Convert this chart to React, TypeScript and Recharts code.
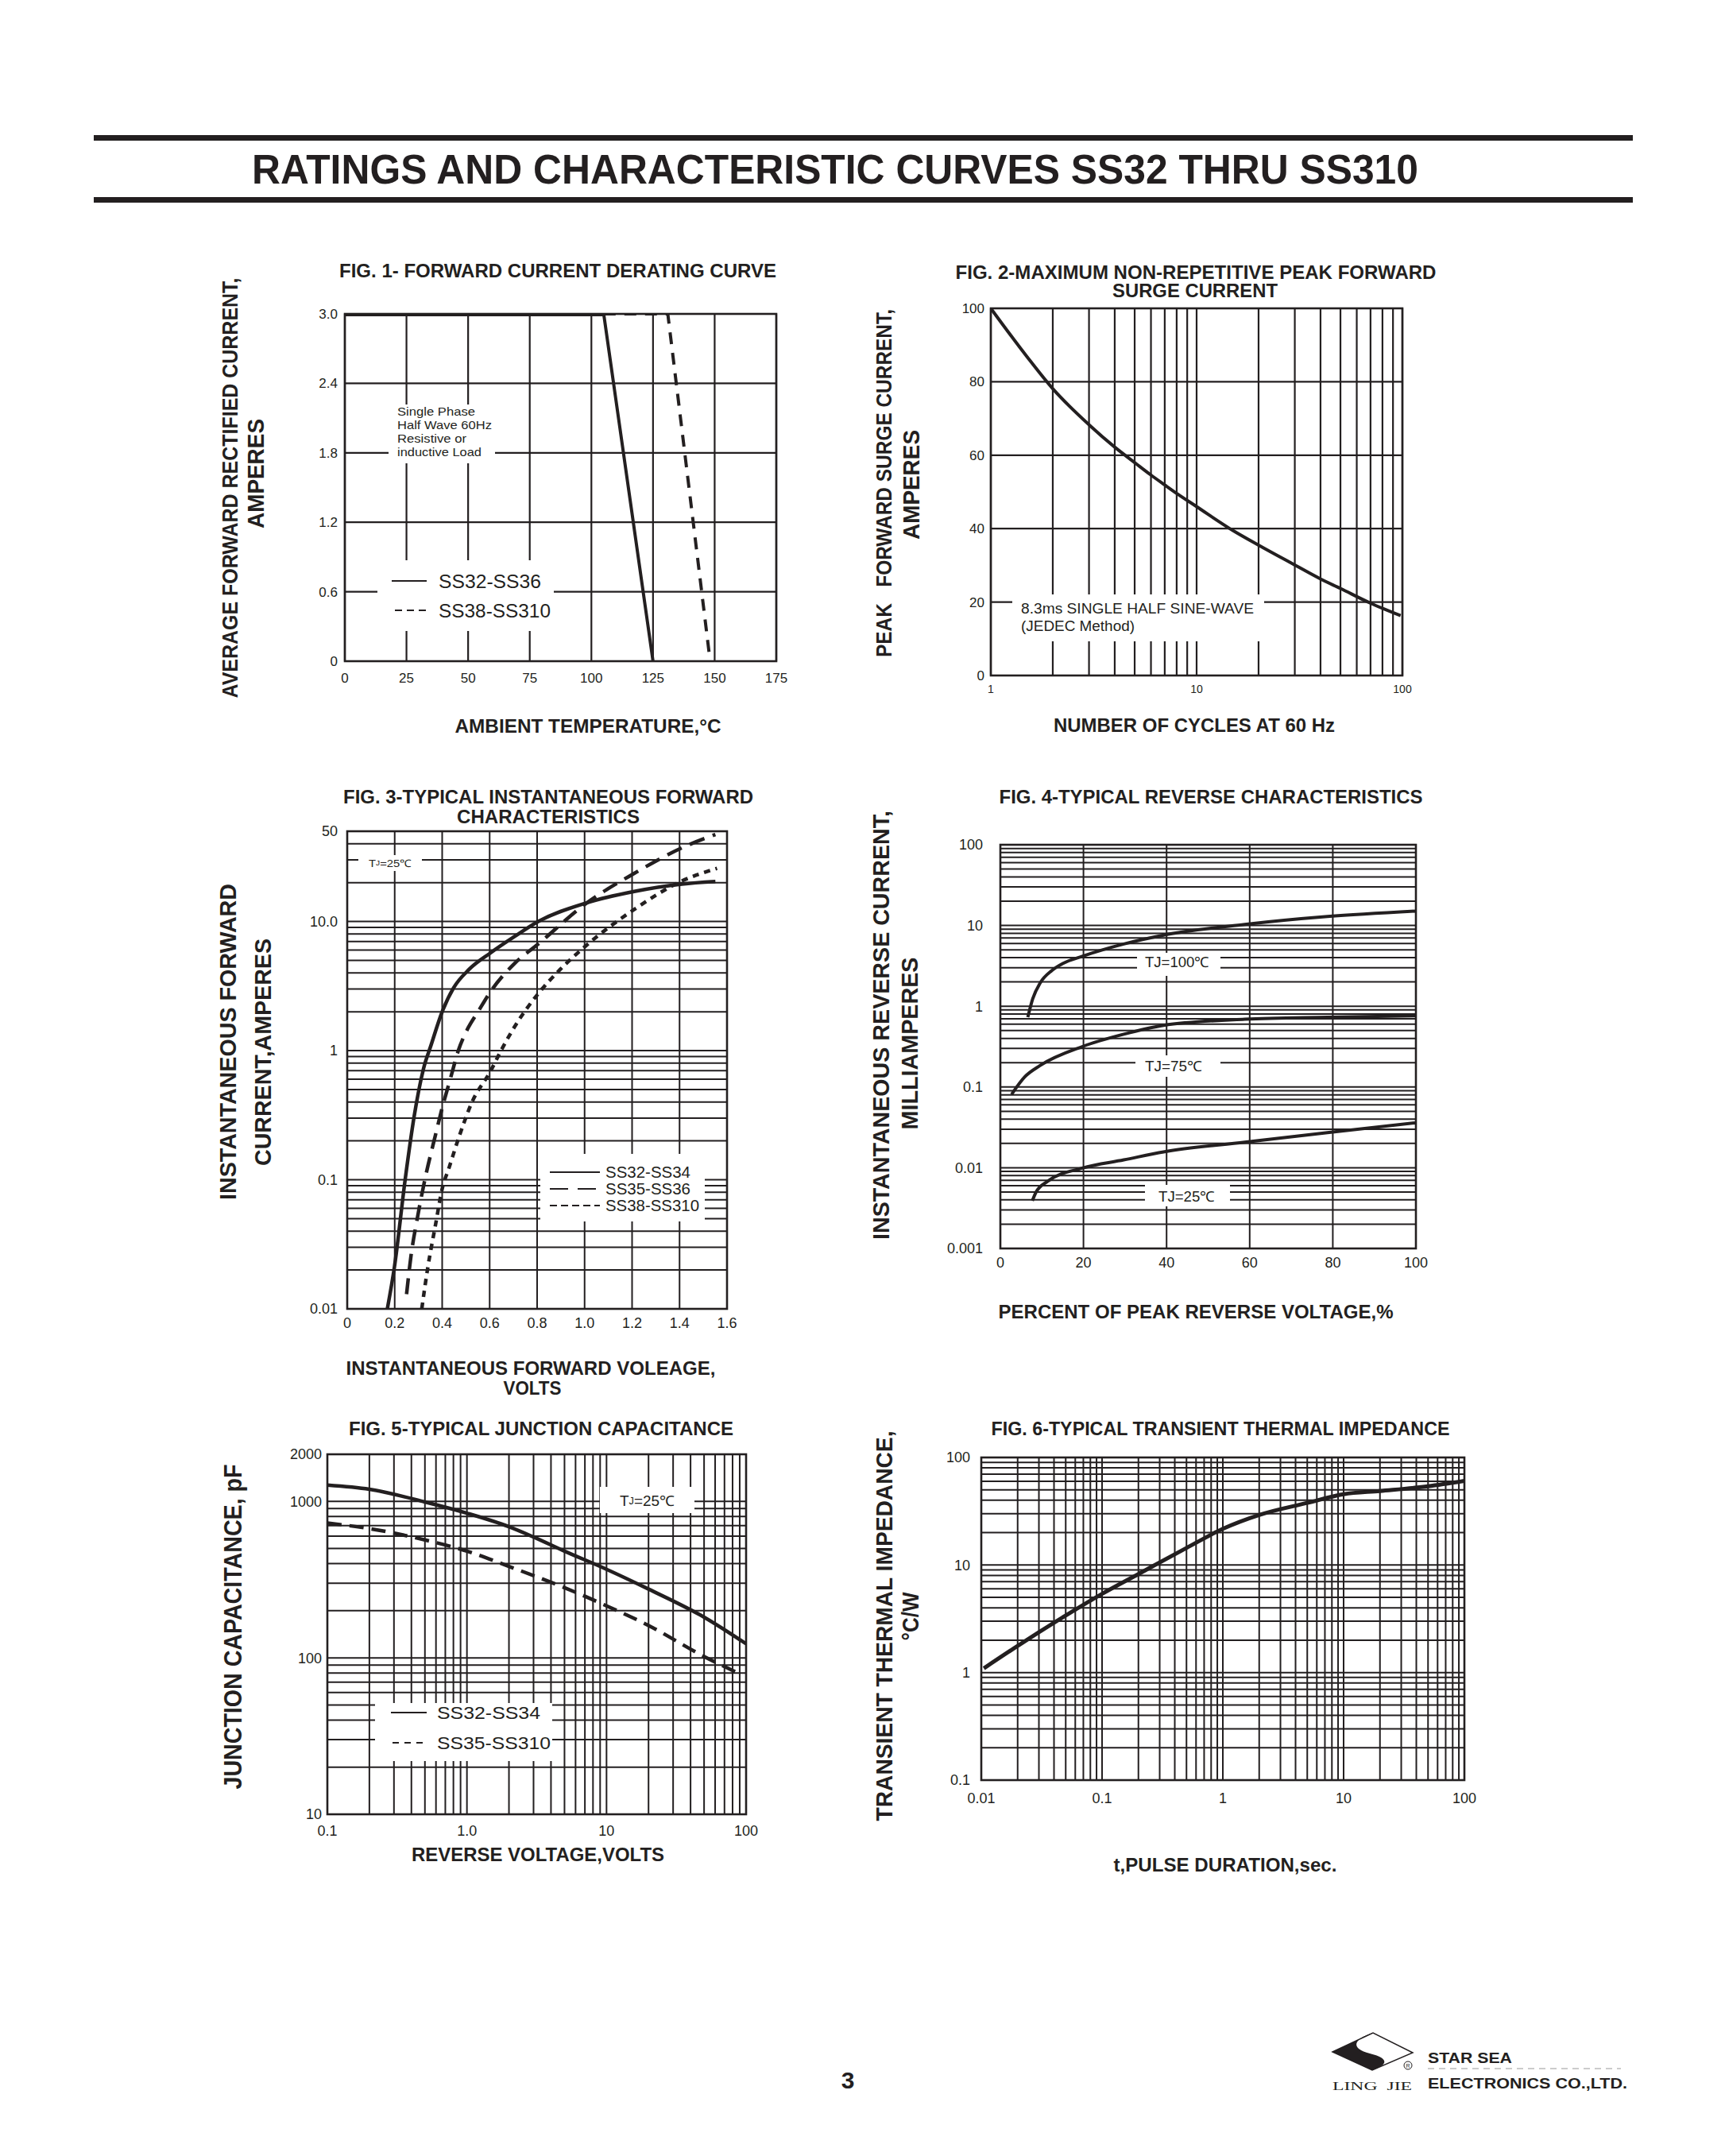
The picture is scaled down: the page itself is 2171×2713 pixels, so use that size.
import React from 'react';
import { CartesianGrid, Line, LineChart, XAxis, YAxis } from 'recharts';

const INK = '#231f20';
const FONT = '"Liberation Sans", Arial, Helvetica, sans-serif';

// ---- FIG. 1 forward current derating ----
const fig1XTicks = [0, 25, 50, 75, 100, 125, 150, 175];
const fig1YTicks = [0, 0.6, 1.2, 1.8, 2.4, 3.0];
const fig1SS32 = [
  { t: 0, a: 3.0 },
  { t: 105, a: 3.0 },
  { t: 125, a: 0 },
];
const fig1SS38 = [
  { t: 105, a: 3.0 },
  { t: 131, a: 3.0 },
  { t: 148, a: 0.03 },
];

// ---- FIG. 2 surge current ----
const fig2Cycles = [1, 1.5, 2, 3, 4, 5, 6, 7, 8, 10, 15, 20, 30, 40, 50, 70, 98];
const fig2Amps = [100, 86.8, 78.1, 68.3, 62.2, 58, 54.6, 51.9, 49.6, 46, 39.5, 35.5, 30.1, 26.3, 23.7, 19.7, 16.3];
const fig2YTicks = [0, 20, 40, 60, 80, 100];
const fig2XLabels: [number, string][] = [[1, '1'], [10, '10'], [100, '100']];

// ---- FIG. 3 forward characteristics ----
const fig3XTicks = [0, 0.2, 0.4, 0.6, 0.8, 1.0, 1.2, 1.4, 1.6];
const fig3YLabels: [number, string][] = [[0.01, '0.01'], [0.1, '0.1'], [1, '1'], [10, '10.0'], [50, '50']];
const fig3SS32V = [0.169, 0.199, 0.244, 0.282, 0.321, 0.353, 0.4, 0.449, 0.513, 0.603, 0.705, 0.805, 1.006, 1.209, 1.41, 1.551];
const fig3SS32I = [0.01, 0.0212, 0.1, 0.31, 0.72, 1.1, 2.0, 3.08, 4.25, 5.7, 7.65, 10, 13.9, 17.1, 19.5, 20.4];
const fig3SS35V = [0.25, 0.269, 0.295, 0.327, 0.372, 0.4, 0.436, 0.468, 0.506, 0.551, 0.603, 0.705, 0.805, 1.006, 1.209, 1.41, 1.551];
const fig3SS35I = [0.013, 0.026, 0.05, 0.1, 0.223, 0.36, 0.62, 1.0, 1.46, 2.0, 2.85, 4.73, 6.7, 13.8, 23.6, 37.2, 47.2];
const fig3SS38V = [0.314, 0.34, 0.372, 0.4, 0.429, 0.474, 0.526, 0.603, 0.654, 0.705, 0.805, 0.897, 1.006, 1.209, 1.41, 1.558];
const fig3SS38I = [0.01, 0.0212, 0.0448, 0.085, 0.124, 0.223, 0.4, 0.69, 1.05, 1.53, 2.77, 4.25, 6.5, 12.4, 20.6, 25.8];

// ---- FIG. 4 reverse characteristics ----
const fig4XTicks = [0, 20, 40, 60, 80, 100];
const fig4YLabels: [number, string][] = [[0.001, '0.001'], [0.01, '0.01'], [0.1, '0.1'], [1, '1'], [10, '10'], [100, '100']];
const fig4T100P = [6.6, 7.8, 9.6, 12.4, 15.1, 19.7, 29.7, 39.3, 58.8, 78.7, 100];
const fig4T100I = [0.73, 1.24, 1.95, 2.77, 3.4, 4.15, 5.9, 7.6, 10.3, 12.9, 15.1];
const fig4T75P = [2.7, 5.9, 9.6, 19.7, 29.7, 39.3, 58.8, 78.7, 100];
const fig4T75I = [0.081, 0.134, 0.185, 0.316, 0.45, 0.58, 0.69, 0.73, 0.76];
const fig4T25P = [7.7, 8.6, 11.4, 19.7, 29.7, 39.3, 58.8, 78.7, 100];
const fig4T25I = [0.0039, 0.005, 0.0068, 0.0099, 0.0125, 0.0157, 0.0207, 0.0272, 0.036];

// ---- FIG. 5 junction capacitance ----
const fig5XLabels: [number, string][] = [[0.1, '0.1'], [1, '1.0'], [10, '10'], [100, '100']];
const fig5YLabels: [number, string][] = [[10, '10'], [100, '100'], [1000, '1000'], [2000, '2000']];
const fig5SS32V = [0.1, 0.2, 0.5, 1, 2, 3, 5, 10, 20, 50, 100];
const fig5SS32C = [1271, 1195, 992, 841, 689, 592, 481, 368, 275, 182, 123];
const fig5SS35V = [0.1, 0.2, 0.5, 1, 2, 5, 10, 20, 50, 90];
const fig5SS35C = [727, 670, 567, 481, 384, 281, 215, 161, 102, 79];

// ---- FIG. 6 transient thermal impedance ----
const fig6XLabels: [number, string][] = [[0.01, '0.01'], [0.1, '0.1'], [1, '1'], [10, '10'], [100, '100']];
const fig6YLabels: [number, string][] = [[0.1, '0.1'], [1, '1'], [10, '10'], [100, '100']];
const fig6T = [0.0105, 0.02, 0.03, 0.05, 0.1, 0.2, 0.5, 1, 2, 5, 10, 20, 50, 100];
const fig6Z = [1.095, 1.77, 2.37, 3.39, 5.39, 8.24, 14.4, 21.7, 29.2, 37.8, 45.5, 48.8, 54, 60.6];

// gridline positions for log axes (1..9 per decade)
const logGrid = (lo: number, hi: number): number[] => {
  const out: number[] = [];
  for (let e = Math.floor(Math.log10(lo)); e <= Math.ceil(Math.log10(hi)); e++) {
    for (let m = 1; m <= 9; m++) {
      const v = Number((m * Math.pow(10, e)).toPrecision(3));
      if (v >= lo * 0.999 && v <= hi * 1.001) out.push(v);
    }
  }
  return out;
};
const lab = (pairs: [number, string][]) => (v: number) => {
  const p = pairs.find(([k]) => Math.abs(k - v) <= k * 1e-6);
  return p ? p[1] : '';
};
const zip = (xs: number[], ys: number[]) => xs.map((x, i) => ({ x, y: ys[i] }));

type Rect = { x0: number; y0: number; x1: number; y1: number };
const R1: Rect = { x0: 434, y0: 395, x1: 977, y1: 832 };
const R2: Rect = { x0: 1247, y0: 388, x1: 1765, y1: 850 };
const R3: Rect = { x0: 437, y0: 1046, x1: 915, y1: 1647 };
const R4: Rect = { x0: 1259, y0: 1063, x1: 1782, y1: 1571 };
const R5: Rect = { x0: 412, y0: 1830, x1: 939, y1: 2283 };
const R6: Rect = { x0: 1235, y0: 1834, x1: 1843, y1: 2240 };

const ML = 90, MR = 30, MT = 24, MB = 50;
const dims = (r: Rect) => ({
  width: r.x1 - r.x0 + ML + MR,
  height: r.y1 - r.y0 + MT + MB,
  margin: { top: MT, right: MR, bottom: 0, left: 0 },
});
const Place = ({ r, children }: { r: Rect; children: React.ReactNode }) => (
  <div style={{ position: 'absolute', left: r.x0 - ML, top: r.y0 - MT }}>{children}</div>
);
const tick = (size: number) => ({ fill: INK, fontSize: size, fontFamily: FONT });
const axisBase = { tickLine: false, axisLine: false, tickSize: 0, interval: 0 as const, allowDataOverflow: true };
const curve = { dot: false, activeDot: false, isAnimationActive: false, stroke: INK, dataKey: 'y' };

function Txt(p: {
  x: number; y: number; len?: number; size?: number; bold?: boolean;
  anchor?: 'start' | 'middle' | 'end'; rot?: boolean; serif?: boolean; children: React.ReactNode;
}) {
  const { x, y, len, size = 24, bold = true, anchor = 'middle', rot, serif } = p;
  return (
    <text
      x={x} y={y} fontSize={size} fontWeight={bold ? 700 : 400}
      fontFamily={serif ? '"Liberation Serif", "DejaVu Serif", serif' : FONT}
      fill={INK} textAnchor={anchor} dominantBaseline="central"
      textLength={len} lengthAdjust={len ? 'spacingAndGlyphs' : undefined}
      transform={rot ? `rotate(-90 ${x} ${y})` : undefined}
    >
      {p.children}
    </text>
  );
}
const WBox = ({ x0, y0, x1, y1 }: Rect) => <rect x={x0} y={y0} width={x1 - x0} height={y1 - y0} fill="#fff" />;
const FrameRect = ({ r }: { r: Rect }) => (
  <rect x={r.x0} y={r.y0} width={r.x1 - r.x0} height={r.y1 - r.y0} fill="none" stroke={INK} strokeWidth={2.6} />
);

export default function App() {
  return (
    <div style={{ position: 'absolute', left: 0, top: 0, width: 2171, height: 2713, background: '#fff', overflow: 'hidden' }}>
      {/* FIG 1 */}
      <Place r={R1}>
        <LineChart {...dims(R1)}>
          <CartesianGrid stroke={INK} strokeWidth={2.2} />
          <XAxis {...axisBase} type="number" dataKey="x" domain={[0, 175]} ticks={fig1XTicks} height={MB} tickMargin={15} tick={tick(17)} />
          <YAxis {...axisBase} type="number" domain={[0, 3]} ticks={fig1YTicks} width={ML} tickMargin={9} tick={tick(17)}
            tickFormatter={(v: number) => (v === 0 ? '0' : v.toFixed(1))} />
          <Line {...curve} data={fig1SS38.map((d) => ({ x: d.t, y: d.a }))} type="linear" strokeWidth={4} strokeDasharray="15 11" />
          <Line {...curve} data={fig1SS32.map((d) => ({ x: d.t, y: d.a }))} type="linear" strokeWidth={4} />
        </LineChart>
      </Place>

      {/* FIG 2 */}
      <Place r={R2}>
        <LineChart {...dims(R2)}>
          <CartesianGrid stroke={INK} strokeWidth={2.2} />
          <XAxis {...axisBase} type="number" dataKey="x" scale="log" domain={[1, 100]} ticks={logGrid(1, 100)} height={MB} tickMargin={12}
            tick={tick(14)} tickFormatter={lab(fig2XLabels)} />
          <YAxis {...axisBase} type="number" domain={[0, 100]} ticks={fig2YTicks} width={ML} tickMargin={8} tick={tick(17)} />
          <Line {...curve} data={zip(fig2Cycles, fig2Amps)} type="monotone" strokeWidth={4} />
        </LineChart>
      </Place>

      {/* FIG 3 */}
      <Place r={R3}>
        <LineChart {...dims(R3)}>
          <CartesianGrid stroke={INK} strokeWidth={2} />
          <XAxis {...axisBase} type="number" dataKey="x" domain={[0, 1.6]} ticks={fig3XTicks} height={MB} tickMargin={11} tick={tick(18)}
            tickFormatter={(v: number) => (v === 0 ? '0' : v.toFixed(1))} />
          <YAxis {...axisBase} type="number" scale="log" domain={[0.01, 50]} ticks={logGrid(0.01, 50)} width={ML} tickMargin={12}
            tick={tick(18)} tickFormatter={lab(fig3YLabels)} />
          <Line {...curve} data={zip(fig3SS38V, fig3SS38I)} type="monotone" strokeWidth={4.5} strokeDasharray="8 7" />
          <Line {...curve} data={zip(fig3SS35V, fig3SS35I)} type="monotone" strokeWidth={4.5} strokeDasharray="20 11" />
          <Line {...curve} data={zip(fig3SS32V, fig3SS32I)} type="monotone" strokeWidth={4.5} />
        </LineChart>
      </Place>

      {/* FIG 4 */}
      <Place r={R4}>
        <LineChart {...dims(R4)}>
          <CartesianGrid stroke={INK} strokeWidth={2} />
          <XAxis {...axisBase} type="number" dataKey="x" domain={[0, 100]} ticks={fig4XTicks} height={MB} tickMargin={11} tick={tick(18)} />
          <YAxis {...axisBase} type="number" scale="log" domain={[0.001, 100]} ticks={logGrid(0.001, 100)} width={ML} tickMargin={22}
            tick={tick(18)} tickFormatter={lab(fig4YLabels)} />
          <Line {...curve} data={zip(fig4T100P, fig4T100I)} type="monotone" strokeWidth={4} />
          <Line {...curve} data={zip(fig4T75P, fig4T75I)} type="monotone" strokeWidth={4} />
          <Line {...curve} data={zip(fig4T25P, fig4T25I)} type="monotone" strokeWidth={4} />
        </LineChart>
      </Place>

      {/* FIG 5 */}
      <Place r={R5}>
        <LineChart {...dims(R5)}>
          <CartesianGrid stroke={INK} strokeWidth={2} />
          <XAxis {...axisBase} type="number" dataKey="x" scale="log" domain={[0.1, 100]} ticks={logGrid(0.1, 100)} height={MB} tickMargin={14}
            tick={tick(18)} tickFormatter={lab(fig5XLabels)} />
          <YAxis {...axisBase} type="number" scale="log" domain={[10, 2000]} ticks={logGrid(10, 2000)} width={ML} tickMargin={7}
            tick={tick(18)} tickFormatter={lab(fig5YLabels)} />
          <Line {...curve} data={zip(fig5SS35V, fig5SS35C)} type="monotone" strokeWidth={4.5} strokeDasharray="18 10" />
          <Line {...curve} data={zip(fig5SS32V, fig5SS32C)} type="monotone" strokeWidth={4.5} />
        </LineChart>
      </Place>

      {/* FIG 6 */}
      <Place r={R6}>
        <LineChart {...dims(R6)}>
          <CartesianGrid stroke={INK} strokeWidth={2} />
          <XAxis {...axisBase} type="number" dataKey="x" scale="log" domain={[0.01, 100]} ticks={logGrid(0.01, 100)} height={MB} tickMargin={16}
            tick={tick(18)} tickFormatter={lab(fig6XLabels)} />
          <YAxis {...axisBase} type="number" scale="log" domain={[0.1, 100]} ticks={logGrid(0.1, 100)} width={ML} tickMargin={14}
            tick={tick(18)} tickFormatter={lab(fig6YLabels)} />
          <Line {...curve} data={zip(fig6T, fig6Z)} type="monotone" strokeWidth={5} />
        </LineChart>
      </Place>

      {/* text, boxes, frames */}
      <svg width={2171} height={2713} style={{ position: 'absolute', left: 0, top: 0, pointerEvents: 'none' }}>
        {/* header */}
        <rect x={118} y={170} width={1937} height={7} fill={INK} />
        <rect x={118} y={248} width={1937} height={7} fill={INK} />
        <Txt x={1051} y={213} len={1468} size={52}>RATINGS AND CHARACTERISTIC CURVES SS32 THRU SS310</Txt>

        {/* fig 1 */}
        <WBox x0={489} y0={509} x1={623} y1={583} />
        <WBox x0={475} y0={705} x1={697} y1={794} />
        <FrameRect r={R1} />
        <line x1={R1.x0} y1={R1.y0 + 1} x2={R1.x0 + ((R1.x1 - R1.x0) * 105) / 175} y2={R1.y0 + 1} stroke={INK} strokeWidth={4} />
        <Txt x={702} y={340} len={550} size={24}>FIG. 1- FORWARD CURRENT DERATING CURVE</Txt>
        <Txt x={289} y={614} len={529} size={28} rot>AVERAGE FORWARD RECTIFIED CURRENT,</Txt>
        <Txt x={322} y={596} len={138} size={29} rot>AMPERES</Txt>
        <Txt x={740} y={913} len={335} size={24}>AMBIENT TEMPERATURE,°C</Txt>
        <Txt x={500} y={517} len={98} size={15} bold={false} anchor="start">Single Phase</Txt>
        <Txt x={500} y={534} len={119} size={15} bold={false} anchor="start">Half Wave 60Hz</Txt>
        <Txt x={500} y={551} len={87} size={15} bold={false} anchor="start">Resistive or</Txt>
        <Txt x={500} y={568} len={106} size={15} bold={false} anchor="start">inductive Load</Txt>
        <line x1={493} y1={731} x2={537} y2={731} stroke={INK} strokeWidth={2} />
        <line x1={497} y1={768} x2={537} y2={768} stroke={INK} strokeWidth={2} strokeDasharray="9 6" />
        <Txt x={552} y={731} len={129} size={24} bold={false} anchor="start">SS32-SS36</Txt>
        <Txt x={552} y={768} len={141} size={24} bold={false} anchor="start">SS38-SS310</Txt>

        {/* fig 2 */}
        <WBox x0={1274} y0={748} x1={1591} y1={807} />
        <FrameRect r={R2} />
        <Txt x={1505} y={342} len={605} size={24}>FIG. 2-MAXIMUM NON-REPETITIVE PEAK FORWARD</Txt>
        <Txt x={1504} y={365} len={208} size={24}>SURGE CURRENT</Txt>
        <Txt x={1113} y={608} len={438} size={27} rot>{'PEAK\u00a0\u00a0\u00a0FORWARD SURGE CURRENT,'}</Txt>
        <Txt x={1147} y={610} len={138} size={29} rot>AMPERES</Txt>
        <Txt x={1503} y={912} len={354} size={24}>NUMBER OF CYCLES AT 60 Hz</Txt>
        <Txt x={1285} y={766} len={293} size={18} bold={false} anchor="start">8.3ms SINGLE HALF SINE-WAVE</Txt>
        <Txt x={1285} y={788} len={143} size={18} bold={false} anchor="start">(JEDEC Method)</Txt>

        {/* fig 3 */}
        <WBox x0={680} y0={1452} x1={887} y1={1537} />
        <WBox x0={451} y0={1076} x1={531} y1={1096} />
        <FrameRect r={R3} />
        <Txt x={690} y={1002} len={516} size={24}>FIG. 3-TYPICAL INSTANTANEOUS FORWARD</Txt>
        <Txt x={690} y={1027} len={230} size={24}>CHARACTERISTICS</Txt>
        <Txt x={287} y={1311} len={398} size={29} rot>INSTANTANEOUS FORWARD</Txt>
        <Txt x={331} y={1324} len={286} size={29} rot>CURRENT,AMPERES</Txt>
        <Txt x={668} y={1721} len={465} size={24}>INSTANTANEOUS FORWARD VOLEAGE,</Txt>
        <Txt x={670} y={1746} len={73} size={24}>VOLTS</Txt>
        <line x1={692} y1={1475} x2={755} y2={1475} stroke={INK} strokeWidth={2} />
        <line x1={692} y1={1496} x2={755} y2={1496} stroke={INK} strokeWidth={2} strokeDasharray="23 12" />
        <line x1={692} y1={1517} x2={755} y2={1517} stroke={INK} strokeWidth={2} strokeDasharray="9 5" />
        <Txt x={762} y={1475} len={107} size={20} bold={false} anchor="start">SS32-SS34</Txt>
        <Txt x={762} y={1496} len={107} size={20} bold={false} anchor="start">SS35-SS36</Txt>
        <Txt x={762} y={1517} len={118} size={20} bold={false} anchor="start">SS38-SS310</Txt>
        <Txt x={464} y={1086} len={54} size={13} bold={false} anchor="start">
          T<tspan fontSize={9}>J</tspan>=25℃
        </Txt>

        {/* fig 4 */}
        <WBox x0={1431} y0={1199} x1={1536} y1={1228} />
        <WBox x0={1429} y0={1328} x1={1536} y1={1355} />
        <WBox x0={1441} y0={1491} x1={1548} y1={1518} />
        <FrameRect r={R4} />
        <Txt x={1524} y={1002} len={533} size={24}>FIG. 4-TYPICAL REVERSE CHARACTERISTICS</Txt>
        <Txt x={1109} y={1290} len={540} size={29} rot>INSTANTANEOUS REVERSE CURRENT,</Txt>
        <Txt x={1145} y={1313} len={217} size={29} rot>MILLIAMPERES</Txt>
        <Txt x={1505} y={1650} len={497} size={24}>PERCENT OF PEAK REVERSE VOLTAGE,%</Txt>
        <Txt x={1441} y={1211} len={81} size={18} bold={false} anchor="start">TJ=100℃</Txt>
        <Txt x={1441} y={1342} len={72} size={18} bold={false} anchor="start">TJ=75℃</Txt>
        <Txt x={1458} y={1506} len={71} size={18} bold={false} anchor="start">TJ=25℃</Txt>

        {/* fig 5 */}
        <WBox x0={472} y0={2143} x1={695} y1={2216} />
        <WBox x0={755} y0={1871} x1={874} y1={1904} />
        <FrameRect r={R5} />
        <Txt x={681} y={1797} len={484} size={24}>FIG. 5-TYPICAL JUNCTION CAPACITANCE</Txt>
        <Txt x={293} y={2047} len={409} size={31} rot>JUNCTION CAPACITANCE, pF</Txt>
        <Txt x={677} y={2333} len={318} size={24}>REVERSE VOLTAGE,VOLTS</Txt>
        <line x1={492} y1={2155} x2={537} y2={2155} stroke={INK} strokeWidth={2} />
        <line x1={494} y1={2193} x2={537} y2={2193} stroke={INK} strokeWidth={2} strokeDasharray="8 7" />
        <Txt x={550} y={2155} len={130} size={22} bold={false} anchor="start">SS32-SS34</Txt>
        <Txt x={550} y={2193} len={143} size={22} bold={false} anchor="start">SS35-SS310</Txt>
        <Txt x={780} y={1889} len={69} size={18} bold={false} anchor="start">
          T<tspan fontSize={12}>J</tspan>=25℃
        </Txt>

        {/* fig 6 */}
        <FrameRect r={R6} />
        <Txt x={1536} y={1797} len={577} size={24}>FIG. 6-TYPICAL TRANSIENT THERMAL IMPEDANCE</Txt>
        <Txt x={1113} y={2046} len={491} size={29} rot>TRANSIENT THERMAL IMPEDANCE,</Txt>
        <Txt x={1146} y={2034} len={61} size={29} rot>°C/W</Txt>
        <Txt x={1542} y={2346} len={281} size={24}>t,PULSE DURATION,sec.</Txt>

        {/* footer */}
        <Txt x={1067} y={2617} size={30}>3</Txt>
        <path d="M1677 2582 L1728 2558 L1778 2583 L1727 2605 Z" fill="none" stroke={INK} strokeWidth={1.5} />
        <path d="M1677 2582 L1728 2558 C1702 2566 1700 2578 1724 2584 C1748 2590 1748 2598 1727 2605 Z" fill={INK} />
        <circle cx={1772} cy={2599} r={5} fill="none" stroke={INK} strokeWidth={1} />
        <Txt x={1772} y={2599} size={7} bold={false}>R</Txt>
        <Txt x={1677} y={2625} len={100} size={15} bold={false} anchor="start" serif>{'LING\u00a0\u00a0JIE'}</Txt>
        <Txt x={1797} y={2590} len={106} size={18} anchor="start">STAR SEA</Txt>
        <line x1={1797} y1={2603} x2={2040} y2={2603} stroke="#999" strokeWidth={1} strokeDasharray="8 6" />
        <Txt x={1797} y={2622} len={251} size={18} anchor="start">ELECTRONICS CO.,LTD.</Txt>
      </svg>
    </div>
  );
}
